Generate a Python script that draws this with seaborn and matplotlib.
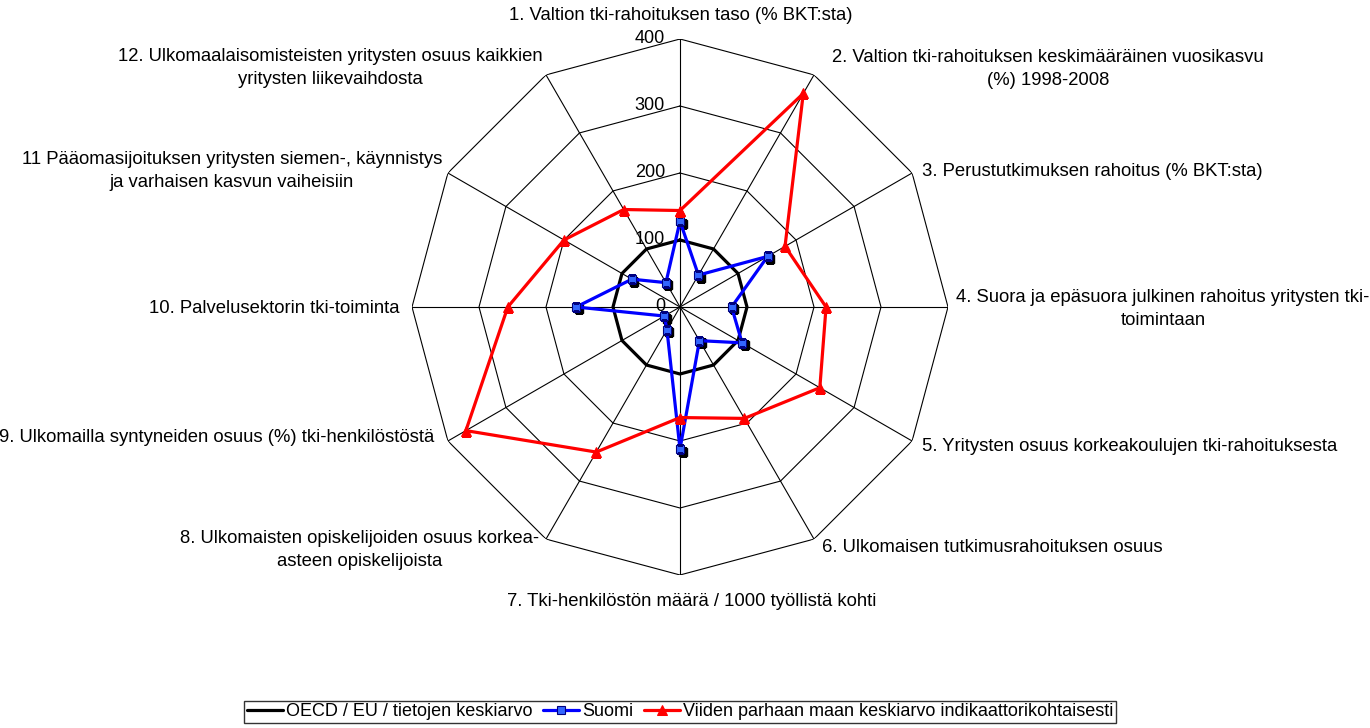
import numpy as np
import pandas as pd
import matplotlib
matplotlib.use("Agg")
import matplotlib.pyplot as plt
import matplotlib.transforms as mtransforms
import seaborn as sns

# indikaattorit (12 kpl), suhteutettu OECD/EU keskiarvoon = 100
indikaattorit = [
    "1. Valtion tki-rahoituksen taso (% BKT:sta)",
    "2. Valtion tki-rahoituksen keskimääräinen vuosikasvu\n(%) 1998-2008",
    "3. Perustutkimuksen rahoitus (% BKT:sta)",
    "4. Suora ja epäsuora julkinen rahoitus yritysten tki-\ntoimintaan",
    "5. Yritysten osuus korkeakoulujen tki-rahoituksesta",
    "6. Ulkomaisen tutkimusrahoituksen osuus",
    "7. Tki-henkilöstön määrä / 1000 työllistä kohti",
    "8. Ulkomaisten opiskelijoiden osuus korkea-\nasteen opiskelijoista",
    "9. Ulkomailla syntyneiden osuus (%) tki-henkilöstöstä",
    "10. Palvelusektorin tki-toiminta",
    "11 Pääomasijoituksen yritysten siemen-, käynnistys\nja varhaisen kasvun vaiheisiin",
    "12. Ulkomaalaisomisteisten yritysten osuus kaikkien\nyritysten liikevaihdosta",
]
oecd = [100, 100, 100, 100, 100, 100, 100, 100, 100, 100, 100, 100]
suomi = [128, 55, 151, 77, 107, 58, 212, 39, 27, 155, 83, 42]
parhaat = [144, 368, 181, 218, 241, 192, 165, 250, 369, 257, 200, 168]
r_ticks = [0, 100, 200, 300, 400]

nimet = ["OECD / EU / tietojen keskiarvo", "Suomi",
         "Viiden parhaan maan keskiarvo indikaattorikohtaisesti"]

n = len(indikaattorit)
kulmat = np.linspace(0, 2 * np.pi, n, endpoint=False)
t_closed = np.append(kulmat, 2 * np.pi)

rows = []
for nimi, arvot in zip(nimet, [oecd, suomi, parhaat]):
    for th, v in zip(t_closed, arvot + arvot[:1]):
        rows.append({"sarja": nimi, "theta": th, "arvo": v})
df = pd.DataFrame(rows)

sns.set_style("white")
plt.rcParams["font.family"] = ["Liberation Sans", "DejaVu Sans"]
plt.rcParams["text.color"] = "black"

W, H = 1370, 728
fig = plt.figure(figsize=(W / 100, H / 100), dpi=100)
cx, cy, R = 680, 307, 268
ax = fig.add_axes([(cx - R) / W, (H - cy - R) / H, 2 * R / W, 2 * R / H], projection="polar")
ax.set_theta_zero_location("N")
ax.set_theta_direction(-1)
ax.set_facecolor("none")

# monikulmioverkko
for r in r_ticks[1:]:
    ax.plot(t_closed, [r] * (n + 1), color="black", lw=0.8, zorder=1)
for t in kulmat:
    ax.plot([t, t], [0, 400], color="black", lw=0.8, zorder=1)

off = mtransforms.ScaledTranslation(-15 / 100, 0, fig.dpi_scale_trans)
for r in r_ticks:
    ax.text(0, r, str(r), ha="right", va="center", fontsize=13, color="black",
            transform=ax.transData + off, zorder=5)

# varjo Suomen merkeille
sh = mtransforms.ScaledTranslation(2.5 / 100, -2.5 / 100, fig.dpi_scale_trans)
ax.plot(kulmat, suomi, ls="none", marker="s", ms=6, color="black",
        transform=ax.transData + sh, zorder=3)

sns.lineplot(data=df[df.sarja == nimet[0]], x="theta", y="arvo", sort=False,
             estimator=None, ax=ax, color="black", lw=2.3, label=nimet[0], zorder=2)
sns.lineplot(data=df[df.sarja == nimet[1]], x="theta", y="arvo", sort=False,
             estimator=None, ax=ax, color="#0000ff", lw=2.3, marker="s", ms=6,
             mfc="#3366ff", mec="#000080", mew=0.8, label=nimet[1], zorder=4)
sns.lineplot(data=df[df.sarja == nimet[2]], x="theta", y="arvo", sort=False,
             estimator=None, ax=ax, color="#ff0000", lw=2.3, marker="^", ms=6.5,
             mec="#ff0000", label=nimet[2], zorder=4)

ax.set_xlabel("")
ax.set_ylabel("")
ax.set_ylim(0, 400)
ax.grid(False)
ax.set_xticks([])
ax.set_yticks([])
ax.spines["polar"].set_visible(False)

handles, labels = ax.get_legend_handles_labels()
ax.get_legend().remove()
leg = fig.legend(handles, labels, loc="center", bbox_to_anchor=(680 / W, 1 - 712 / H),
                 ncol=3, fontsize=13, frameon=True, fancybox=False, edgecolor="black",
                 handlelength=2.0, handletextpad=0.15, columnspacing=0.6,
                 borderpad=0.15, borderaxespad=0)
leg.get_frame().set_linewidth(1)

# akseliotsikot
lbl = [
    (681, 16, "center"),
    (1048, 69, "center"),
    (922, 172, "left"),
    (1163, 309, "center"),
    (922, 446, "left"),
    (822, 547, "left"),
    (692, 601, "center"),
    (360, 550, "center"),
    (434, 437, "right"),
    (400, 308, "right"),
    (232, 171, "center"),
    (330, 68, "center"),
]
for (x, y, ha), txt in zip(lbl, indikaattorit):
    fig.text(x / W, 1 - y / H, txt, ha=ha, va="center", multialignment="center",
             fontsize=13.3, linespacing=1.42, color="black")

fig.savefig("out.png", dpi=100)
